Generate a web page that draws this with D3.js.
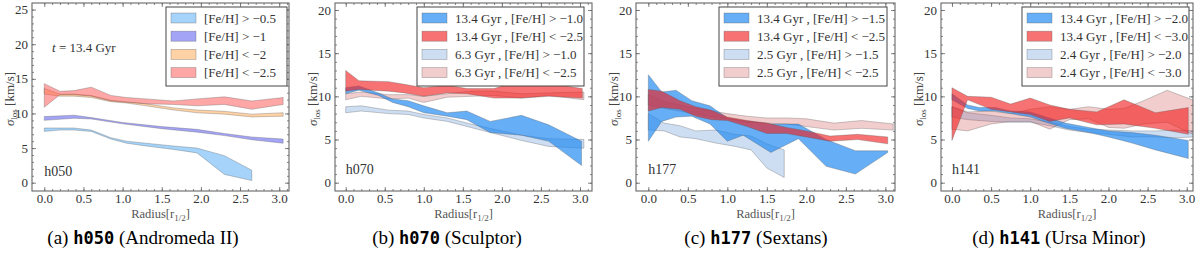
<!DOCTYPE html>
<html><head><meta charset="utf-8">
<script src="https://cdn.jsdelivr.net/npm/d3@7"></script>
<style>body{margin:0;background:#fff}svg{display:block}</style>
</head><body>
<svg id="c" width="1200" height="253"></svg>
<script>
// ---------- DATA ----------
const panelIds = ["h050", "h070", "h177", "h141"];
const captionLetters = ["(a)", "(b)", "(c)", "(d)"];
const captionNames = ["(Andromeda II)", "(Sculptor)", "(Sextans)", "(Ursa Minor)"];
const xTickValues = [0, 0.5, 1, 1.5, 2, 2.5, 3];
const yTicksA = [0, 5, 10, 15, 20, 25];
const yTicksOther = [0, 5, 10, 15, 20];

// Panel (a) h050
const legendA = ["[Fe/H] > \u22120.5", "[Fe/H] > \u22121", "[Fe/H] < \u22122", "[Fe/H] < \u22122.5"];
const a1_r  = [0.0, 0.2, 0.38, 0.6, 0.85, 1.05, 1.3, 1.65, 1.95, 2.3, 2.65];
const a1_hi = [7.9, 7.9, 7.9, 7.6, 6.5, 6.0, 5.7, 5.3, 5.0, 3.9, 1.8];
const a1_lo = [7.4, 7.6, 7.6, 7.4, 6.3, 5.7, 5.3, 4.8, 4.3, 1.2, 0.3];
const a2_r  = [0.0, 0.38, 0.6, 1.0, 1.5, 1.95, 2.3, 2.65, 3.05];
const a2_hi = [9.55, 9.75, 9.4, 8.7, 8.1, 7.7, 7.1, 6.6, 6.3];
const a2_lo = [9.0, 9.3, 9.2, 8.5, 7.8, 7.3, 6.8, 6.2, 5.7];
const a3_r  = [0.0, 0.2, 0.38, 0.6, 0.85, 1.05, 1.3, 1.65, 1.95, 2.3, 2.65, 3.05];
const a3_hi = [13.6, 12.8, 12.8, 12.6, 11.9, 11.7, 11.4, 10.8, 10.5, 10.3, 9.9, 10.1];
const a3_lo = [12.8, 12.5, 12.5, 12.3, 11.7, 11.5, 11.1, 10.5, 10.1, 9.9, 9.5, 9.6];
const a4_r  = [0.0, 0.2, 0.38, 0.6, 0.85, 1.05, 1.3, 1.65, 1.95, 2.3, 2.65, 3.05];
const a4_hi = [14.3, 13.2, 13.3, 13.8, 12.6, 12.3, 12.1, 11.8, 12.1, 12.4, 11.8, 12.3];
const a4_lo = [10.9, 12.7, 12.7, 12.5, 11.8, 11.6, 11.4, 11.3, 11.1, 11.3, 10.6, 11.3];

// Panel (b) h070
const legendB = ["13.4 Gyr , [Fe/H] > \u22121.0", "13.4 Gyr , [Fe/H] < \u22122.5", "6.3 Gyr , [Fe/H] > \u22121.0", "6.3 Gyr , [Fe/H] < \u22122.5"];
const b1_r  = [0.0, 0.17, 0.42, 0.6, 0.8, 1.0, 1.3, 1.55, 1.85, 2.25, 2.6, 3.02];
const b1_hi = [11.0, 11.2, 10.4, 9.7, 9.5, 8.9, 8.1, 8.3, 7.1, 7.8, 6.7, 4.8];
const b1_lo = [10.3, 10.7, 10.1, 9.3, 8.8, 8.1, 7.7, 7.3, 5.8, 5.5, 4.8, 2.0];
const b2_r  = [0.0, 0.17, 0.55, 0.75, 1.0, 1.3, 1.55, 1.9, 2.25, 2.6, 3.03];
const b2_hi = [13.0, 11.8, 11.7, 11.4, 11.0, 11.3, 10.9, 10.9, 11.9, 11.5, 10.9];
const b2_lo = [10.6, 10.8, 10.6, 10.4, 10.0, 10.4, 10.3, 9.8, 9.8, 10.0, 9.8];
const b3_r  = [0.0, 0.2, 0.55, 0.8, 1.0, 1.3, 1.6, 1.9, 2.25, 2.6, 3.05];
const b3_hi = [8.8, 8.9, 8.4, 8.3, 7.9, 7.5, 6.8, 6.2, 5.5, 5.1, 5.0];
const b3_lo = [8.1, 8.3, 8.0, 7.9, 7.5, 7.1, 6.4, 5.7, 4.9, 4.2, 4.0];
const b4_r  = [0.0, 0.2, 0.55, 0.8, 1.0, 1.3, 1.6, 1.9, 2.25, 2.6, 3.05];
const b4_hi = [10.3, 10.5, 10.2, 10.2, 10.0, 10.3, 10.6, 10.6, 10.3, 10.4, 10.5];
const b4_lo = [9.6, 10.0, 9.7, 9.8, 9.3, 9.9, 10.0, 10.1, 9.8, 10.1, 9.6];

// Panel (c) h177
const legendC = ["13.4 Gyr , [Fe/H] > \u22121.5", "13.4 Gyr , [Fe/H] < \u22122.5", "2.5 Gyr , [Fe/H] > \u22121.5", "2.5 Gyr , [Fe/H] < \u22122.5"];
const c1_r  = [0.0, 0.17, 0.35, 0.55, 0.78, 1.0, 1.2, 1.55, 1.9, 2.25, 2.62, 3.03];
const c1_hi = [12.5, 10.5, 10.7, 9.5, 8.9, 7.5, 7.2, 6.8, 6.8, 5.0, 3.7, 3.7];
const c1_lo = [4.8, 7.1, 7.6, 7.7, 6.8, 4.8, 5.5, 3.5, 5.1, 1.9, 1.0, 3.5];
const c2_r  = [0.0, 0.17, 0.4, 0.6, 0.8, 1.0, 1.25, 1.5, 1.75, 2.0, 2.3, 2.65, 3.03];
const c2_hi = [10.8, 10.6, 9.5, 8.8, 8.4, 7.6, 7.2, 6.9, 6.4, 6.0, 5.4, 5.6, 5.3];
const c2_lo = [8.3, 8.7, 8.5, 7.7, 7.3, 7.2, 6.5, 5.7, 5.7, 5.3, 4.8, 5.0, 4.5];
const c3_r  = [0.0, 0.2, 0.4, 0.6, 0.85, 1.1, 1.3, 1.5, 1.72];
const c3_hi = [8.0, 6.9, 6.6, 6.0, 6.1, 5.6, 5.4, 4.5, 3.8];
const c3_lo = [6.1, 6.0, 5.3, 5.1, 4.6, 4.2, 3.8, 1.7, 0.6];
const c4_r  = [0.0, 0.2, 0.5, 0.75, 1.0, 1.25, 1.5, 1.75, 2.0, 2.35, 2.7, 3.1];
const c4_hi = [10.2, 9.4, 8.8, 8.4, 8.0, 7.7, 7.5, 7.5, 7.4, 6.9, 7.2, 6.8];
const c4_lo = [9.0, 8.6, 8.1, 7.7, 7.4, 7.0, 6.9, 6.8, 6.5, 6.1, 6.3, 6.1];

// Panel (d) h141
const legendD = ["13.4 Gyr , [Fe/H] > \u22122.0", "13.4 Gyr , [Fe/H] < \u22123.0", "2.4 Gyr , [Fe/H] > \u22122.0", "2.4 Gyr , [Fe/H] < \u22123.0"];
const d1_r  = [0.0, 0.2, 0.35, 0.55, 0.75, 1.0, 1.2, 1.45, 1.75, 2.0, 2.3, 2.6, 3.02];
const d1_hi = [10.3, 9.0, 8.7, 8.7, 8.3, 8.2, 7.6, 6.9, 6.4, 6.0, 5.8, 5.5, 4.9];
const d1_lo = [9.6, 8.6, 8.3, 8.3, 8.0, 7.6, 7.0, 6.3, 5.8, 5.3, 4.6, 3.8, 2.8];
const d2_r  = [0.0, 0.2, 0.5, 0.75, 1.0, 1.25, 1.5, 1.85, 2.2, 2.6, 3.02];
const d2_hi = [11.0, 10.0, 9.9, 9.1, 9.8, 9.0, 8.5, 8.2, 9.6, 8.1, 8.7];
const d2_lo = [4.9, 9.6, 8.5, 8.2, 7.9, 7.1, 7.5, 6.7, 6.8, 6.3, 5.6];
const d3_r  = [0.0, 0.2, 0.5, 0.75, 1.0, 1.25, 1.5, 1.75, 2.0, 2.3, 2.6, 2.85, 3.1];
const d3_hi = [8.8, 8.1, 7.8, 7.5, 7.4, 7.0, 6.5, 6.2, 6.1, 6.0, 6.0, 6.1, 6.0];
const d3_lo = [7.6, 7.3, 7.1, 7.0, 7.0, 6.6, 6.1, 5.8, 5.6, 5.3, 5.3, 5.2, 5.3];
const d4_r  = [0.0, 0.2, 0.5, 0.75, 1.0, 1.25, 1.5, 1.75, 2.0, 2.2, 2.45, 2.75, 3.1];
const d4_hi = [8.8, 8.2, 8.3, 8.0, 8.5, 8.8, 8.5, 8.8, 8.5, 8.6, 9.5, 10.7, 9.5];
const d4_lo = [6.2, 6.0, 6.8, 7.1, 7.1, 6.2, 7.3, 7.4, 6.4, 6.3, 6.8, 7.0, 5.5];

// ---------- STYLE / LAYOUT ----------
const styleA = [
  {fill: "#87c4f7", op: 0.75},
  {fill: "#5a5af0", op: 0.55},
  {fill: "#ffa64d", op: 0.5},
  {fill: "#ff4d4d", op: 0.5}
];
const styleBCD = [
  {fill: "#1e88f0", op: 0.68},
  {fill: "#f21d1d", op: 0.62},
  {fill: "#5b93d6", op: 0.3},
  {fill: "#d24a4a", op: 0.28}
];
function mk(r, lo, hi) { return r.map((x, i) => ({x: x, lo: lo[i], hi: hi[i]})); }

const panels = [
  {left: 32, right: 289, xd: [-0.157, 3.125], yd: [-1.2, 25.95], yt: yTicksA, capX: 143,
   legX: 166, legW: 121, labels: legendA, style: styleA, textY: 176,
   series: [mk(a1_r, a1_lo, a1_hi), mk(a2_r, a2_lo, a2_hi), mk(a3_r, a3_lo, a3_hi), mk(a4_r, a4_lo, a4_hi)]},
  {left: 335, right: 592, xd: [-0.137, 3.154], yd: [-0.96, 20.81], yt: yTicksOther, capX: 447,
   legX: 417, legW: 167, labels: legendB, style: styleBCD, textY: 174,
   series: [mk(b3_r, b3_lo, b3_hi), mk(b4_r, b4_lo, b4_hi), mk(b1_r, b1_lo, b1_hi), mk(b2_r, b2_lo, b2_hi)]},
  {left: 636, right: 895, xd: [-0.156, 3.122], yd: [-0.96, 20.81], yt: yTicksOther, capX: 756,
   legX: 719, legW: 168, labels: legendC, style: styleBCD, textY: 174,
   series: [mk(c3_r, c3_lo, c3_hi), mk(c4_r, c4_lo, c4_hi), mk(c1_r, c1_lo, c1_hi), mk(c2_r, c2_lo, c2_hi)]},
  {left: 941, right: 1193, xd: [-0.14, 3.08], yd: [-0.96, 20.81], yt: yTicksOther, capX: 1059,
   legX: 1022, legW: 167, labels: legendD, style: styleBCD, textY: 174,
   series: [mk(d3_r, d3_lo, d3_hi), mk(d4_r, d4_lo, d4_hi), mk(d1_r, d1_lo, d1_hi), mk(d2_r, d2_lo, d2_hi)]}
];
const TOP = 3, BOTTOM = 191;
const serif = "'Liberation Serif','Times New Roman',serif";
const svg = d3.select("#c");

panels.forEach((p, pi) => {
  const x = d3.scaleLinear().domain(p.xd).range([p.left, p.right]);
  const y = d3.scaleLinear().domain(p.yd).range([BOTTOM, TOP]);
  const g = svg.append("g");
  const clipId = "clip" + pi;
  g.append("clipPath").attr("id", clipId).append("rect")
    .attr("x", p.left).attr("y", TOP).attr("width", p.right - p.left).attr("height", BOTTOM - TOP);

  // bands (older populations first, 13.4 Gyr on top for b-d)
  const area = d3.area().x(d => x(d.x)).y0(d => y(d.lo)).y1(d => y(d.hi));
  const styleIdx = pi === 0 ? [0, 1, 2, 3] : [2, 3, 0, 1];
  const bands = g.append("g").attr("clip-path", `url(#${clipId})`);
  p.series.forEach((s, si) => {
    const st = p.style[styleIdx[si]];
    bands.append("path").attr("d", area(s))
      .attr("fill", st.fill).attr("fill-opacity", st.op)
      .attr("stroke", "#555").attr("stroke-opacity", 0.45).attr("stroke-width", 0.7);
  });

  // axes (ticks inward, on all sides)
  const xMinor = d3.range(0, 3.11, 0.1).filter(v => v >= p.xd[0] && v <= p.xd[1]);
  const yMinor = d3.range(0, p.yd[1], 1);
  const axColor = "#666";
  function styleAxis(sel) {
    sel.select(".domain").remove();
    sel.selectAll("line").attr("stroke", axColor).attr("stroke-width", 0.8);
    sel.selectAll("text").attr("fill", "#333").style("font-family", serif).style("font-size", "13px");
  }
  g.append("g").attr("transform", `translate(0,${BOTTOM})`)
    .call(d3.axisBottom(x).tickValues(xMinor).tickSize(-2).tickFormat("")).call(styleAxis);
  const xb = g.append("g").attr("transform", `translate(0,${BOTTOM})`)
    .call(d3.axisBottom(x).tickValues(xTickValues).tickSize(-4).tickFormat(d3.format(".1f")));
  styleAxis(xb);
  xb.selectAll("text").attr("y", 3).attr("dy", "0.71em");
  g.append("g").attr("transform", `translate(0,${TOP})`)
    .call(d3.axisTop(x).tickValues(xMinor).tickSize(-2).tickFormat("")).call(styleAxis);
  g.append("g").attr("transform", `translate(0,${TOP})`)
    .call(d3.axisTop(x).tickValues(xTickValues).tickSize(-4).tickFormat("")).call(styleAxis);
  g.append("g").attr("transform", `translate(${p.left},0)`)
    .call(d3.axisLeft(y).tickValues(yMinor).tickSize(-2).tickFormat("")).call(styleAxis);
  const yl = g.append("g").attr("transform", `translate(${p.left},0)`)
    .call(d3.axisLeft(y).tickValues(p.yt).tickSize(-4).tickFormat(d3.format("d")));
  styleAxis(yl);
  yl.selectAll("text").attr("x", -4);
  g.append("g").attr("transform", `translate(${p.right},0)`)
    .call(d3.axisRight(y).tickValues(yMinor).tickSize(-2).tickFormat("")).call(styleAxis);
  g.append("g").attr("transform", `translate(${p.right},0)`)
    .call(d3.axisRight(y).tickValues(p.yt).tickSize(-4).tickFormat("")).call(styleAxis);

  // frame
  g.append("rect").attr("x", p.left).attr("y", TOP).attr("width", p.right - p.left).attr("height", BOTTOM - TOP)
    .attr("fill", "none").attr("stroke", axColor).attr("stroke-width", 1.1);

  // y label
  const ylab = g.append("text").attr("transform", `translate(${p.left - 18},${(TOP + BOTTOM) / 2 + 2}) rotate(-90)`)
    .attr("text-anchor", "middle").attr("fill", "#444").style("font-family", serif).style("font-size", "13px");
  ylab.append("tspan").style("font-style", "italic").text("\u03c3");
  ylab.append("tspan").attr("dy", 3).style("font-size", "9px").text("los");
  ylab.append("tspan").attr("dy", -3).text(" [km/s]");

  // x label
  const xlab = g.append("text").attr("x", (p.left + p.right) / 2).attr("y", 218)
    .attr("text-anchor", "middle").attr("fill", "#555").style("font-family", serif).style("font-size", "12.5px");
  xlab.append("tspan").text("Radius[r");
  xlab.append("tspan").attr("dy", 3).style("font-size", "9px").text("1/2");
  xlab.append("tspan").attr("dy", -3).text("]");

  // halo id label
  g.append("text").attr("x", x(0)).attr("y", p.textY).attr("fill", "#333")
    .style("font-family", serif).style("font-size", "14px").text(panelIds[pi]);

  // legend
  const lg = g.append("g");
  lg.append("rect").attr("x", p.legX).attr("y", 7).attr("width", p.legW).attr("height", 79)
    .attr("fill", "#fff").attr("stroke", "#444").attr("stroke-width", 1);
  p.labels.forEach((lab, li) => {
    const cy = 18 + li * 18.2;
    const st = p.style[li];
    lg.append("rect").attr("x", p.legX + 5).attr("y", cy - 5).attr("width", 25).attr("height", 10)
      .attr("fill", st.fill).attr("fill-opacity", st.op)
      .attr("stroke", "#555").attr("stroke-opacity", 0.45).attr("stroke-width", 0.7);
    lg.append("text").attr("x", p.legX + 38).attr("y", cy + 4.5).attr("fill", "#333")
      .style("font-family", serif).style("font-size", "13px").text(lab);
  });

  // caption
  const cap = svg.append("text").attr("x", p.capX).attr("y", 244).attr("text-anchor", "middle")
    .attr("fill", "#000").style("font-family", serif).style("font-size", "19px");
  cap.append("tspan").text(captionLetters[pi] + " ");
  cap.append("tspan").style("font-family", "'DejaVu Sans Mono','Liberation Mono',monospace")
    .style("font-weight", "bold").style("font-size", "17px").text(panelIds[pi]);
  cap.append("tspan").text(" " + captionNames[pi]);
});

// time annotation in panel (a)
const tA = svg.append("text").attr("x", 52).attr("y", 52).attr("fill", "#333")
  .style("font-family", serif).style("font-size", "13px");
tA.append("tspan").style("font-style", "italic").text("t");
tA.append("tspan").text(" = 13.4 Gyr");
</script>
</body></html>
